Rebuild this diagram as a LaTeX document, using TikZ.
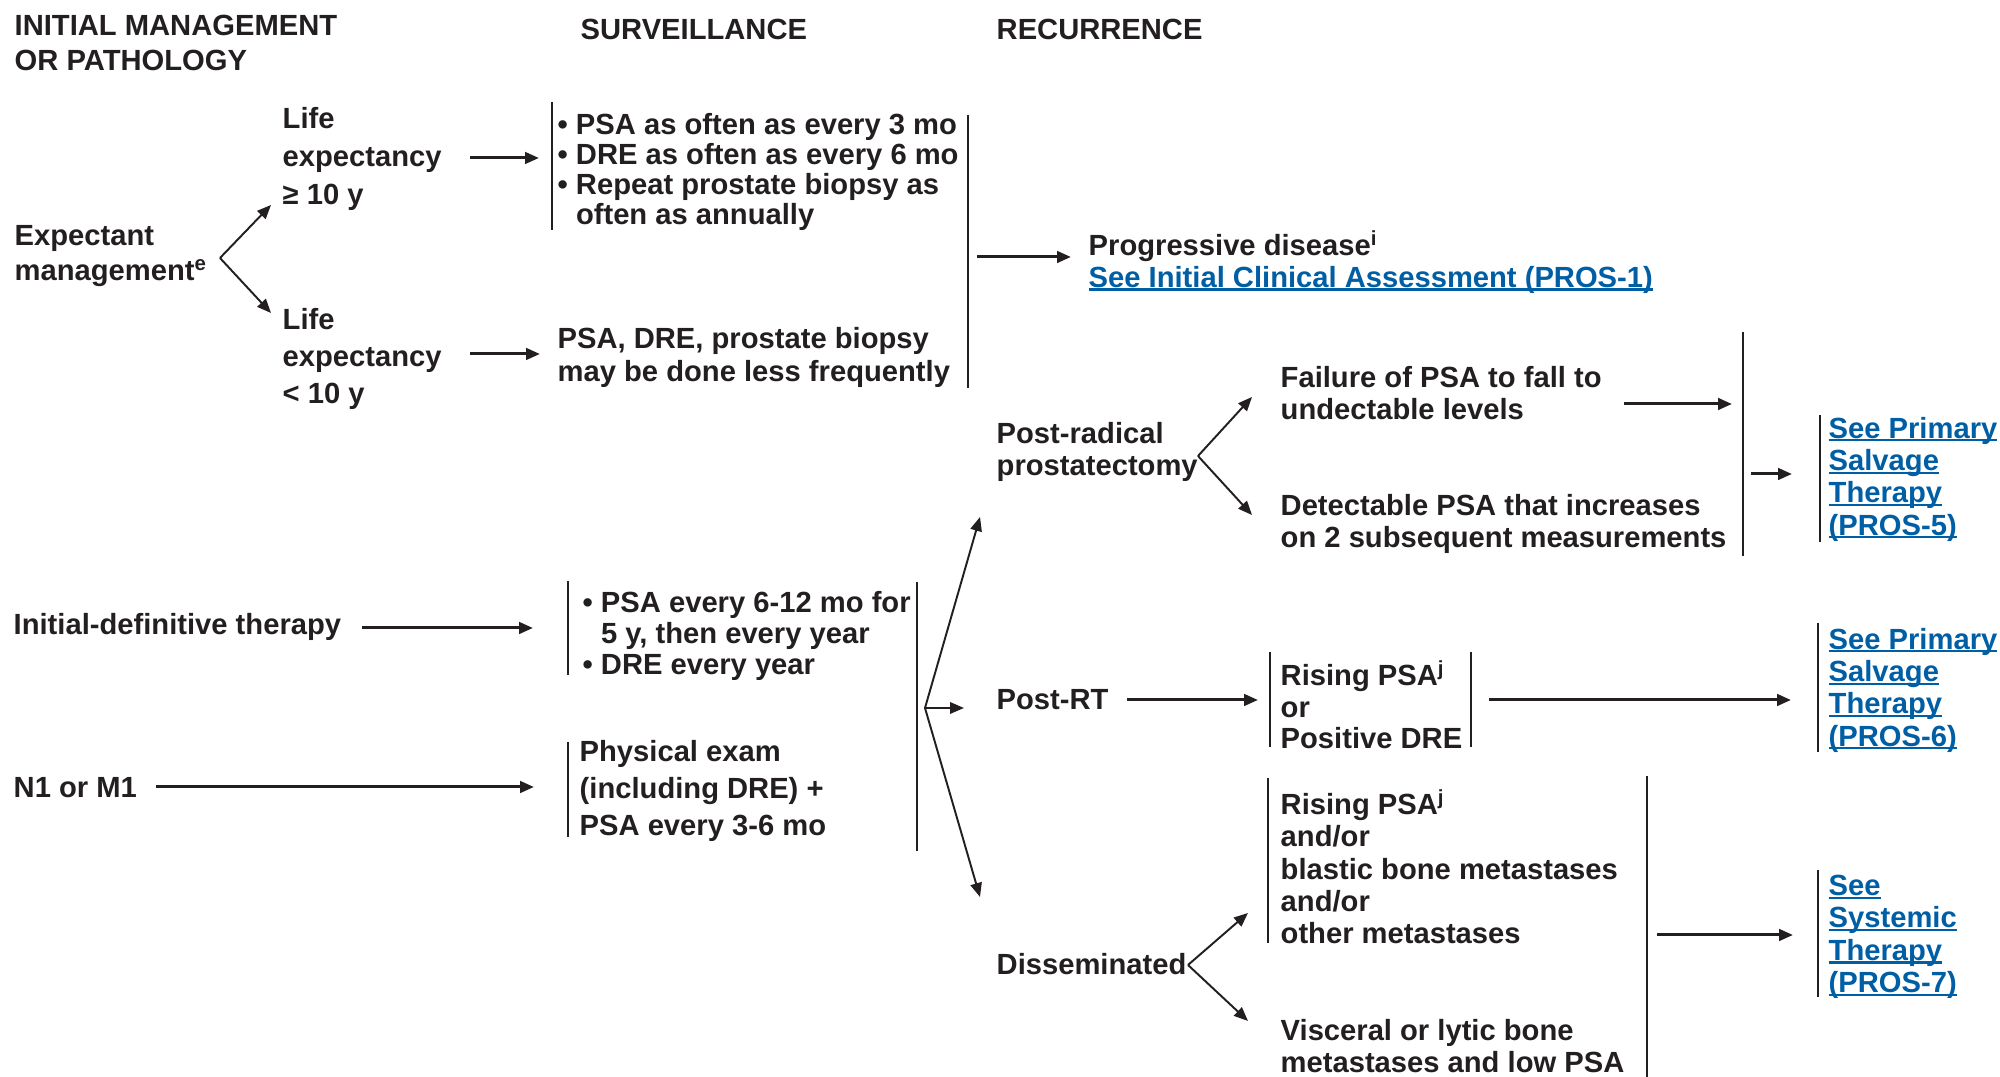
\documentclass[tikz,border=0pt]{standalone}
\usepackage{fontspec}
\setmainfont{Liberation Sans}
\usetikzlibrary{arrows.meta}

\definecolor{inkgray}{RGB}{35,31,32}
\definecolor{linkblue}{RGB}{0,94,165}
\newcommand{\lnk}[1]{{\color{linkblue}\setbox0\hbox{#1}%
  \rlap{\rule[-0.11em]{\wd0}{0.07em}}\box0}}

\tikzset{
  txt/.style={anchor=west, inner sep=0pt, align=left, text=inkgray,
    font=\fontsize{8.3}{#1}\selectfont\bfseries},
  txt/.default=9.2,
  arr/.style={draw=inkgray, line width=0.85pt, -{Triangle[length=1.4mm,width=1.15mm]}},
  fanarr/.style={draw=inkgray, line width=0.55pt, -{Triangle[length=1.4mm,width=1.15mm]}},
  bar/.style={draw=inkgray, line width=0.55pt}
}

\begin{document}
\begin{tikzpicture}[x=0.1mm,y=-0.1mm]
\useasboundingbox (0,0) rectangle (2000,1077);

% column headings
\node[txt=10.2] (hdrinit) at (14,43) {INITIAL MANAGEMENT\\OR PATHOLOGY};
\node[txt] (hdrsurv) at (580,29) {SURVEILLANCE};
\node[txt] (hdrrec) at (996,29) {RECURRENCE};

% initial management
\node[txt=10] (expect) at (14,256) {Expectant\\management\textsuperscript{e}};
\node[txt=10.9] (lifehi) at (282,159) {Life\\expectancy\\≥ 10 y};
\node[txt=10.4] (lifelo) at (282,359) {Life\\expectancy\\< 10 y};
\node[txt] (initdef) at (13,627) {Initial-definitive therapy};
\node[txt] (nmone) at (13,788) {N1 or M1};

% surveillance
\node[txt=8.5] (survhi) at (557,172) {• PSA as often as every 3 mo\\• DRE as often as every 6 mo\\• Repeat prostate biopsy as\\\hphantom{•\ }often as annually};
\node[txt=9.4] (survlo) at (557,357) {PSA, DRE, prostate biopsy\\may be done less frequently};
\node[txt=8.8] (survdef) at (582,636) {• PSA every 6-12 mo for\\\hphantom{•\ }5 y, then every year\\• DRE every year};
\node[txt=10.4] (survnm) at (579,791) {Physical exam\\(including DRE) +\\PSA every 3-6 mo};

% recurrence
\node[txt=9.1] (progr) at (1088,262) {Progressive disease\textsuperscript{i}\\\lnk{See Initial Clinical Assessment (PROS-1)}};
\node[txt=9.1] (postrp) at (996,452) {Post-radical\\prostatectomy};
\node[txt=9] (failpsa) at (1280,393) {Failure of PSA to fall to\\undectable levels};
\node[txt=9.2] (detpsa) at (1280,524) {Detectable PSA that increases\\on 2 subsequent measurements};
\node[txt] (postrt) at (996,700) {Post-RT};
\node[txt=9] (risert) at (1280,705) {Rising PSA\textsuperscript{j}\\or\\Positive DRE};
\node[txt] (dissem) at (996,964) {Disseminated};
\node[txt=9.2] (risedis) at (1280,867) {Rising PSA\textsuperscript{j}\\and/or\\blastic bone metastases\\and/or\\other metastases};
\node[txt=9.1] (visc) at (1280,1046) {Visceral or lytic bone\\metastases and low PSA};

% links
\node[txt=9.2] (seeprim5) at (1828,479) {\lnk{See Primary}\\\lnk{Salvage}\\\lnk{Therapy}\\\lnk{(PROS-5)}};
\node[txt=9.2] (seeprim6) at (1828,690) {\lnk{See Primary}\\\lnk{Salvage}\\\lnk{Therapy}\\\lnk{(PROS-6)}};
\node[txt=9.2] (seesys7) at (1828,937) {\lnk{See}\\\lnk{Systemic}\\\lnk{Therapy}\\\lnk{(PROS-7)}};

% brackets
\draw[bar] (552,102) -- (552,230);
\draw[bar] (968,115) -- (968,388);
\draw[bar] (568,581) -- (568,675);
\draw[bar] (917,582) -- (917,851);
\draw[bar] (568,742) -- (568,837);
\draw[bar] (1743,332) -- (1743,556);
\draw[bar] (1820,415) -- (1820,542);
\draw[bar] (1270,652) -- (1270,747);
\draw[bar] (1471,652) -- (1471,747);
\draw[bar] (1818,623) -- (1818,752);
\draw[bar] (1268,778) -- (1268,943);
\draw[bar] (1647,776) -- (1647,1077);
\draw[bar] (1818,870) -- (1818,997);

% connector ends
\coordinate (expfan) at (220,258);
\coordinate (lifehi-in) at (271,205);
\coordinate (lifelo-in) at (271,313);
\coordinate (lifehi-out) at (470,158);
\coordinate (survhi-in) at (539,158);
\coordinate (lifelo-out) at (470,354);
\coordinate (survlo-in) at (540,354);
\coordinate (survhi-out) at (977,257);
\coordinate (progr-in) at (1071,257);
\coordinate (initdef-out) at (362,628);
\coordinate (survdef-in) at (533,628);
\coordinate (nmone-out) at (156,787);
\coordinate (survnm-in) at (534,787);
\coordinate (recfan) at (925,708);
\coordinate (postrp-in) at (980,517);
\coordinate (postrt-in) at (964,708);
\coordinate (dissem-in) at (980,897);
\coordinate (rpfan) at (1198,456);
\coordinate (failpsa-in) at (1252,397);
\coordinate (detpsa-in) at (1252,515);
\coordinate (failpsa-out) at (1624,404);
\coordinate (failpsa-end) at (1732,404);
\coordinate (rp-out) at (1751,474);
\coordinate (seeprim5-in) at (1792,474);
\coordinate (postrt-out) at (1127,700);
\coordinate (risert-in) at (1258,700);
\coordinate (risert-out) at (1489,700);
\coordinate (seeprim6-in) at (1791,700);
\coordinate (disfan) at (1188,965);
\coordinate (risedis-in) at (1248,913);
\coordinate (visc-in) at (1248,1021);
\coordinate (dis-out) at (1657,935);
\coordinate (seesys7-in) at (1793,935);

% connectors
\draw[fanarr] (expfan) -- (lifehi-in);
\draw[fanarr] (expfan) -- (lifelo-in);
\draw[arr] (lifehi-out) -- (survhi-in);
\draw[arr] (lifelo-out) -- (survlo-in);
\draw[arr] (survhi-out) -- (progr-in);
\draw[arr] (initdef-out) -- (survdef-in);
\draw[arr] (nmone-out) -- (survnm-in);
\draw[fanarr] (recfan) -- (postrp-in);
\draw[fanarr] (recfan) -- (postrt-in);
\draw[fanarr] (recfan) -- (dissem-in);
\draw[fanarr] (rpfan) -- (failpsa-in);
\draw[fanarr] (rpfan) -- (detpsa-in);
\draw[arr] (failpsa-out) -- (failpsa-end);
\draw[arr] (rp-out) -- (seeprim5-in);
\draw[arr] (postrt-out) -- (risert-in);
\draw[arr] (risert-out) -- (seeprim6-in);
\draw[fanarr] (disfan) -- (risedis-in);
\draw[fanarr] (disfan) -- (visc-in);
\draw[arr] (dis-out) -- (seesys7-in);
\end{tikzpicture}
\end{document}
